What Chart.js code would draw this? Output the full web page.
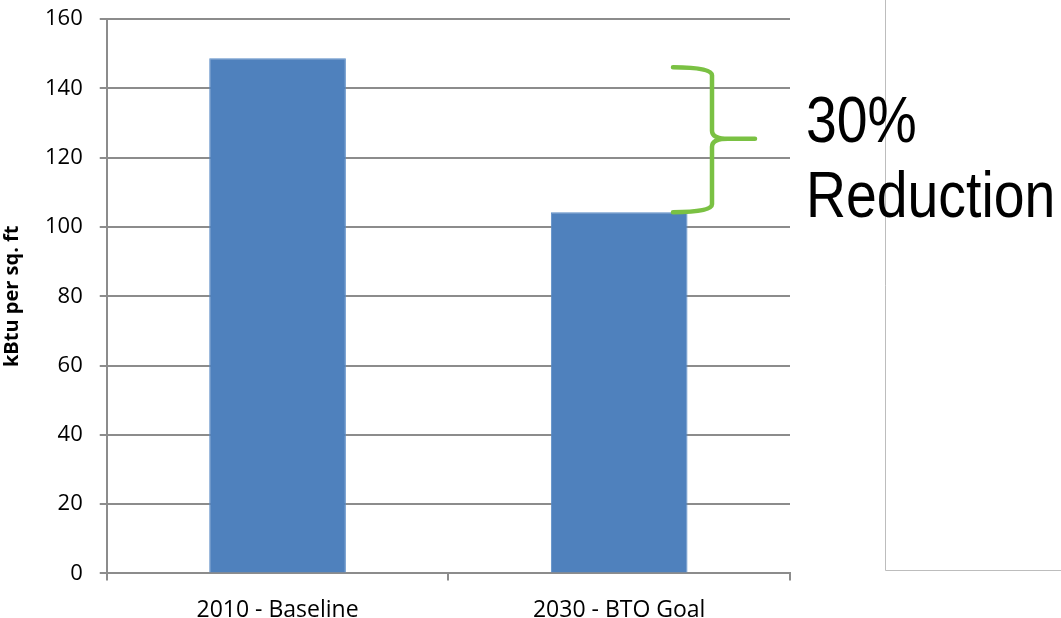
<!DOCTYPE html>
<html>
<head>
<meta charset="utf-8">
<script src="https://cdn.jsdelivr.net/npm/chart.js@4.4.1/dist/chart.umd.min.js"></script>
<style>
  html, body { margin: 0; padding: 0; background: #fff; }
  #wrap { position: relative; width: 1061px; height: 618px; }
</style>
</head>
<body>
<div id="wrap"><canvas id="energyChart"></canvas></div>
<script>
// Данные графика
const categories = ['2010 - Baseline', '2030 - BTO Goal'];
const intensity = [148.7, 104.3];
const yTicks = [0, 20, 40, 60, 80, 100, 120, 140, 160];
const reductionLines = ['30%', 'Reduction'];

const gridGray = '#8c8c8c';

// Фигурная скобка и подпись "30% Reduction"
const bracePlugin = {
    id: 'brace',
    afterDraw(chart) {
        const ctx = chart.ctx;
        const y = chart.scales.y;
        const top = y.getPixelForValue(intensity[0]) + 9;
        const bottom = y.getPixelForValue(intensity[1]);
        const mid = (top + bottom) / 2 - 1;
        const x0 = 673, xs = 712, xt = 755, r = 8;

        ctx.save();
        ctx.strokeStyle = '#7ac143';
        ctx.lineWidth = 4.5;
        ctx.lineCap = 'round';
        ctx.lineJoin = 'round';
        ctx.beginPath();
        ctx.moveTo(x0, top);
        ctx.quadraticCurveTo(xs, top, xs, top + r);
        ctx.lineTo(xs, mid - r);
        ctx.quadraticCurveTo(xs, mid, xs + r * 2, mid);
        ctx.lineTo(xt, mid);
        ctx.moveTo(xs + r * 2, mid);
        ctx.quadraticCurveTo(xs, mid, xs, mid + r);
        ctx.lineTo(xs, bottom - r);
        ctx.quadraticCurveTo(xs, bottom, x0, bottom);
        ctx.stroke();

        // рамка справа
        ctx.strokeStyle = '#bdbdbd';
        ctx.lineWidth = 1;
        ctx.lineCap = 'butt';
        ctx.beginPath();
        ctx.moveTo(885.5, 0);
        ctx.lineTo(885.5, 570.5);
        ctx.lineTo(1061, 570.5);
        ctx.stroke();

        // узкий шрифт: Liberation Sans, сжатый по горизонтали
        ctx.fillStyle = '#000';
        ctx.font = '64px "Liberation Sans", Arial, sans-serif';
        ctx.textBaseline = 'alphabetic';
        ctx.translate(806, 0);
        ctx.scale(0.865, 1);
        ctx.fillText(reductionLines[0], 0, 142);
        ctx.fillText(reductionLines[1], 0, 217);
        ctx.restore();
    }
};

const ctx = document.getElementById('energyChart').getContext('2d');
new Chart(ctx, {
    type: 'bar',
    data: {
        labels: categories,
        datasets: [{
            data: intensity,
            backgroundColor: '#4f81bd',
            borderColor: '#5b8cc6',
            borderWidth: 1,
            barPercentage: 0.4,
            categoryPercentage: 1.0
        }]
    },
    plugins: [bracePlugin],
    options: {
        responsive: true,
        maintainAspectRatio: false,
        animation: false,
        layout: { padding: { top: 0, right: 271, bottom: -22, left: 0 } },
        plugins: {
            legend: { display: false },
            tooltip: { enabled: false }
        },
        scales: {
            x: {
                grid: {
                    drawOnChartArea: false,
                    drawTicks: true,
                    tickLength: 7,
                    color: gridGray,
                    lineWidth: 2
                },
                border: { display: true, color: gridGray, width: 2 },
                ticks: {
                    color: '#000',
                    padding: 16,
                    font: { family: 'Open Sans', size: 23 }
                }
            },
            y: {
                min: 0,
                max: 160,
                afterBuildTicks(scale) {
                    scale.ticks = yTicks.map(v => ({ value: v }));
                },
                grid: {
                    color: gridGray,
                    lineWidth: 2,
                    tickLength: 7
                },
                border: { display: true, color: gridGray, width: 2 },
                ticks: {
                    color: '#000',
                    padding: 17,
                    font: { family: 'Open Sans', size: 22, lineHeight: 0.2 }
                },
                title: {
                    display: true,
                    text: 'kBtu per sq. ft',
                    color: '#000',
                    padding: { top: 0, bottom: 4 },
                    font: { family: 'Open Sans', size: 20, weight: 'bold' }
                }
            }
        }
    }
});
</script>
</body>
</html>
